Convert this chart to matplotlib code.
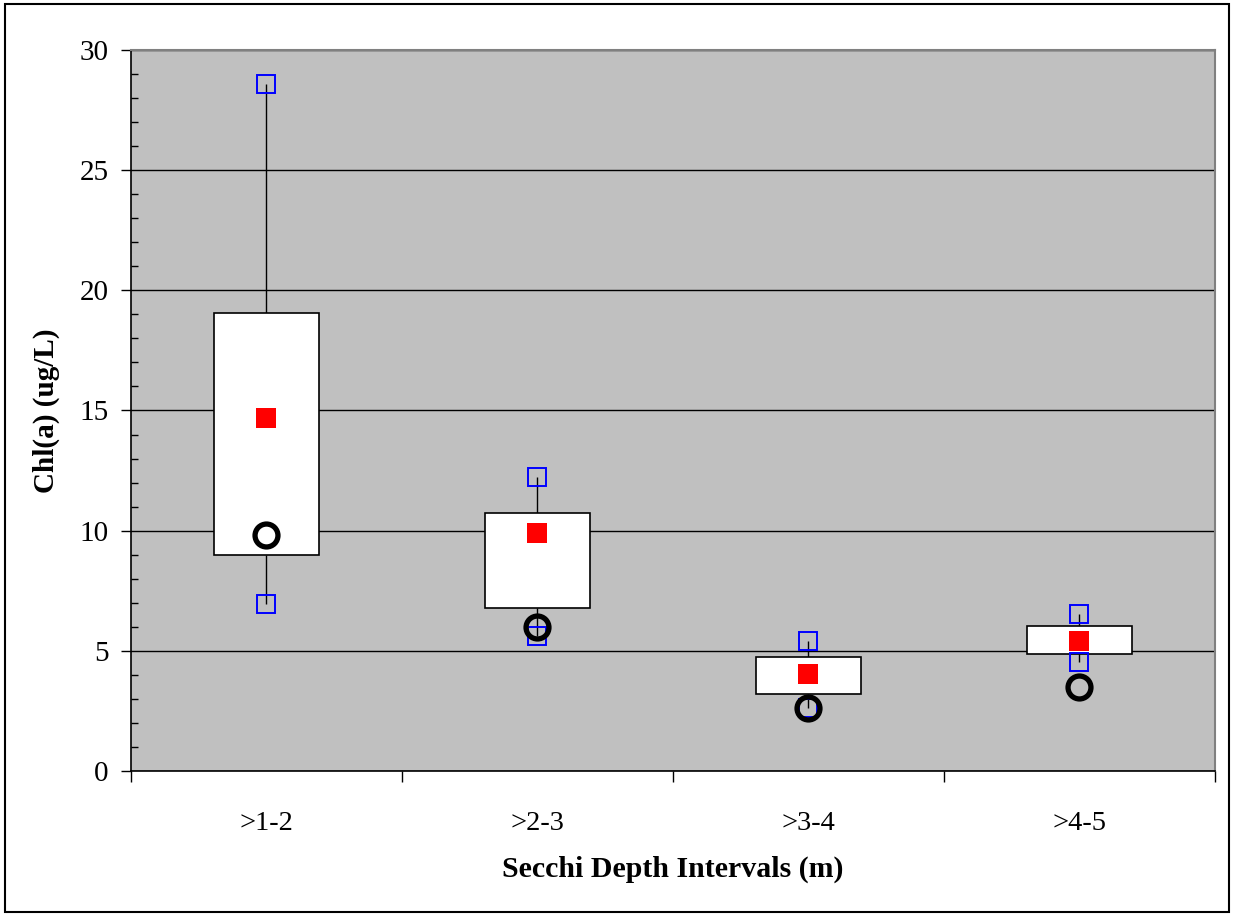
import numpy as np
import matplotlib.pyplot as plt
from matplotlib.patches import Rectangle

plt.rcParams['font.family'] = ['Liberation Serif', 'DejaVu Serif']

categories = [">1-2", ">2-3", ">3-4", ">4-5"]
max_vals = [28.6, 12.25, 5.4, 6.55]
box_top = [19.05, 10.75, 4.75, 6.05]
means = [14.7, 9.9, 4.05, 5.4]
box_bottom = [8.98, 6.78, 3.2, 4.85]
min_vals = [6.95, 5.6, 2.62, 4.55]
medians = [9.82, 6.0, 2.62, 3.5]

fig = plt.figure(figsize=(12.33, 9.15), dpi=100)
ax = fig.add_axes([0.1062, 0.1574, 0.8792, 0.788])
ax.set_facecolor("#c0c0c0")

x = np.arange(len(categories))

# whiskers first so boxes sit on top
ax.vlines(x, min_vals, box_bottom, color="black", lw=1, zorder=2)
ax.vlines(x, box_top, max_vals, color="black", lw=1, zorder=2)

heights = np.array(box_top) - np.array(box_bottom)
ax.bar(x, heights, bottom=box_bottom, width=0.385, color="white",
       edgecolor="black", linewidth=1.2, zorder=3)

ax.plot(x, max_vals, ls="none", marker="s", ms=13, mfc="none", mec="#0000ff", mew=1.4, zorder=4)
ax.plot(x, min_vals, ls="none", marker="s", ms=13, mfc="none", mec="#0000ff", mew=1.4, zorder=4)
ax.plot(x, means, ls="none", marker="s", ms=14.5, mfc="#ff0000", mec="#ff0000", mew=0, zorder=5)
ax.plot(x, medians, ls="none", marker="o", ms=16.5, mfc="none", mec="black", mew=3.8, zorder=6)

ax.set_xlim(-0.5, 3.5)
ax.set_ylim(0, 30)
ax.grid(axis="y", color="black", lw=1)
ax.set_axisbelow(True)

ax.set_yticks(np.arange(0, 31, 5))
ax.set_yticks(np.arange(0, 31, 1), minor=True)
ax.tick_params(axis="y", which="major", direction="out", length=7, width=1, labelsize=21, pad=9)
ax.tick_params(axis="y", which="minor", direction="in", length=5, width=1)

# boundary ticks on x, category names centred between them
ax.set_xticks(np.arange(-0.5, 4, 1))
ax.set_xticklabels([""] * 5)
ax.set_xticks(x, minor=True)
ax.set_xticklabels(categories, minor=True)
ax.tick_params(axis="x", which="major", direction="out", length=8, width=1)
ax.tick_params(axis="x", which="minor", length=0, labelsize=20.5, pad=29)

for side in ["left", "bottom"]:
    ax.spines[side].set_color("black")
    ax.spines[side].set_linewidth(1.2)
for side in ["top", "right"]:
    ax.spines[side].set_color("#808080")
    ax.spines[side].set_linewidth(1.5)

ax.set_ylabel("Chl(a) (ug/L)", fontsize=21, fontweight="bold", labelpad=14)
ax.set_xlabel("Secchi Depth Intervals (m)", fontsize=21.5, fontweight="bold", labelpad=14)

fig.patches.append(Rectangle((0.004, 0.003), 0.993, 0.993, transform=fig.transFigure,
                             fill=False, edgecolor="black", lw=1.5))

fig.savefig("out.png", dpi=100)
